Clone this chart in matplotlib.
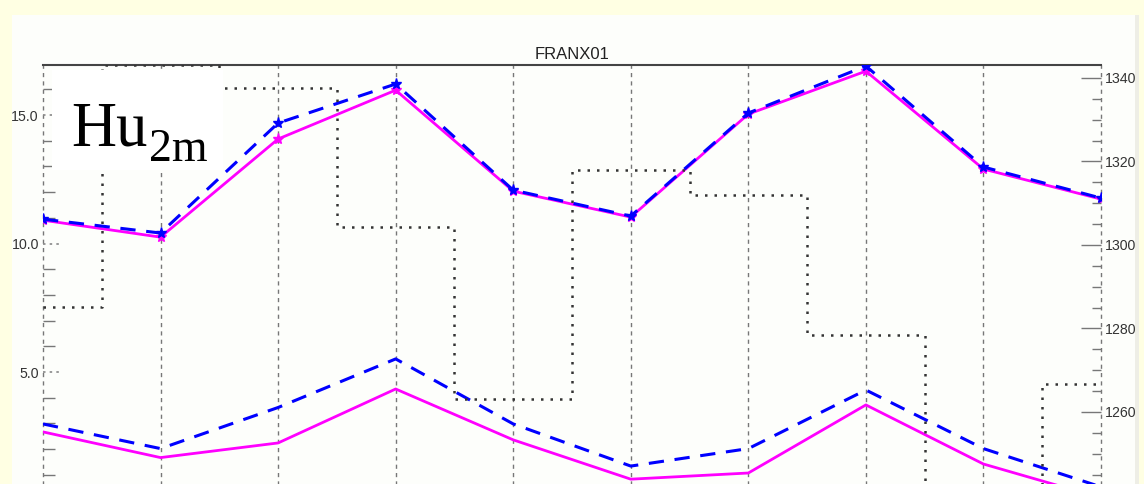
import matplotlib.pyplot as plt
from matplotlib.patches import Rectangle
from matplotlib.ticker import MultipleLocator, FixedLocator, FormatStrFormatter
import matplotlib.transforms as mtransforms

# Data
stations = list(range(10))
hu_top_blue = [10.95, 10.41, 14.69, 16.21, 12.08, 11.07, 15.08, 16.91, 12.98, 11.77]
hu_top_mag = [10.91, 10.25, 14.07, 15.97, 12.04, 11.03, 15.04, 16.71, 12.90, 11.73]
hu_low_blue = [2.98, 2.02, 3.62, 5.51, 2.98, 1.34, 2.02, 4.30, 2.02, 0.53]
hu_low_mag = [2.67, 1.67, 2.24, 4.34, 2.36, 0.83, 1.07, 3.72, 1.42, 0.10]
elev_steps = [1285.1, 1343.0, 1337.6, 1304.3, 1263.1, 1318.0, 1312.0, 1278.4, 1230.0, 1266.7]
left_labels = [5, 10, 15]
right_labels = [1260, 1280, 1300, 1320, 1340]

W, H = 1144, 484
fig = plt.figure(figsize=(W / 100, H / 100), dpi=100, facecolor='#FFFFE3')
fig.add_artist(Rectangle((12 / W, 0), 1123 / W, 1 - 15 / H, transform=fig.transFigure,
                         facecolor='#FDFEFB', edgecolor='none', zorder=-5))
fig.add_artist(Rectangle((1135 / W, 0), 4 / W, 1 - 15 / H, transform=fig.transFigure,
                         facecolor='#EEEEE6', edgecolor='none', zorder=-5))

left, right, top, bottom = 43, 1101, 65, 500.5
ax = fig.add_axes([left / W, 1 - bottom / H, (right - left) / W, (bottom - top) / H])
ax.set_facecolor('#FDFEFB')
ax.set_xlim(0, 9)
ax.set_ylim(0, 16.95)

for s in ['left', 'right', 'bottom']:
    ax.spines[s].set_visible(False)
ax.spines['top'].set_color('#444444')
ax.spines['top'].set_linewidth(1.5)

for i in stations:
    ax.axvline(i, color='#777777', ls=(0, (3, 3)), lw=1, clip_on=False, zorder=1)

ax.set_xticks([])
ax.yaxis.set_major_locator(FixedLocator(left_labels))
ax.yaxis.set_minor_locator(MultipleLocator(1))
ax.yaxis.set_major_formatter(FormatStrFormatter('%.1f'))
ax.tick_params(axis='y', which='major', length=0, pad=3, labelsize=10.2, labelcolor='#333333')
ax.tick_params(axis='y', which='minor', direction='in', length=8.5, width=1, color='#777777')
for lab in ax.get_yticklabels():
    lab.set_family('Liberation Sans')
tr = mtransforms.blended_transform_factory(ax.transAxes, ax.transData)
for v in left_labels:
    ax.plot([0, 0.018], [v, v], transform=tr, color='#888888', ls=(0, (1.5, 2.5)), lw=1.2)

ax.plot(stations, hu_top_mag, color='#FF00FF', lw=2, marker='*', ms=8, zorder=4)
ax.plot(stations, hu_top_blue, color='#0000FF', lw=2.2, ls=(0, (5, 3.5)), marker='*', ms=8, zorder=5)
ax.plot(stations, hu_low_mag, color='#FF00FF', lw=2, zorder=4)
ax.plot(stations, hu_low_blue, color='#0000FF', lw=2.2, ls=(0, (5, 3.5)), zorder=5)

ax2 = ax.twinx()
ax2.set_ylim(1238.8, 1343.1)
for s in ['left', 'right', 'bottom', 'top']:
    ax2.spines[s].set_visible(False)
ax2.yaxis.set_major_locator(FixedLocator(right_labels))
ax2.yaxis.set_minor_locator(MultipleLocator(5))
ax2.tick_params(axis='y', which='major', direction='in', length=14.5, width=1, color='#777777',
                pad=3, labelsize=10.2, labelcolor='#333333')
ax2.tick_params(axis='y', which='minor', direction='in', length=6.5, width=1, color='#777777')
for lab in ax2.get_yticklabels():
    lab.set_family('Liberation Sans')
ax2.step(stations, elev_steps, where='mid', color='#333333', lw=1.8, ls=(0, (1, 2.8)), zorder=3)

fig.text(572 / W, 1 - 59 / H, 'FRANX01', ha='center', va='baseline', fontsize=12,
         color='#222222', family='Liberation Sans')

fig.add_artist(Rectangle((52 / W, 1 - 170 / H), 171 / W, 100 / H, transform=fig.transFigure,
                         facecolor='white', edgecolor='none', zorder=10))
fig.text(71 / W, 1 - 145 / H, 'Hu', ha='left', va='baseline', fontsize=45,
         family='Liberation Serif', color='black', zorder=11)
fig.text(149 / W, 1 - 161 / H, '2m', ha='left', va='baseline', fontsize=33,
         family='Liberation Serif', color='black', zorder=11)

fig.savefig('out.png', dpi=100, facecolor=fig.get_facecolor())
